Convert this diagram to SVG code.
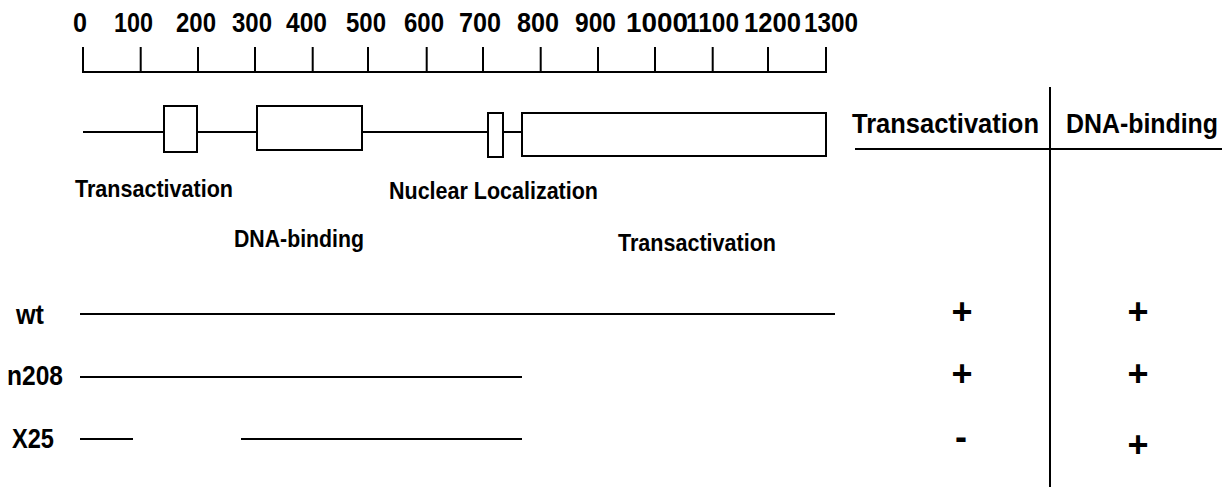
<svg xmlns="http://www.w3.org/2000/svg" width="1231" height="487" viewBox="0 0 1231 487">
<style>
text{font-family:"Liberation Sans",Arial,Helvetica,sans-serif;font-weight:bold;fill:#000}
.num{font-size:28px}
.lbl{font-size:24px}
.hdr{font-size:27px}
.row{font-size:27px}
.sym{font-size:36px;text-anchor:middle}
.ln{stroke:#000;stroke-width:2;fill:none}
.box{stroke:#000;stroke-width:2;fill:#fff}
</style>
<rect width="1231" height="487" fill="#fff"/>
<g id="ruler">
<path class="ln" d="M83,47V72H826V47M140.7,47V72M198,47V72M255,47V72M312.7,47V72M368,47V72M426.7,47V72M483,47V72M540.7,47V72M598,47V72M655,47V72M712.7,47V72M768,47V72"/>
<text class="num" x="73" y="32" textLength="14" lengthAdjust="spacingAndGlyphs">0</text>
<text class="num" x="114" y="32" textLength="39" lengthAdjust="spacingAndGlyphs">100</text>
<text class="num" x="176" y="32" textLength="40" lengthAdjust="spacingAndGlyphs">200</text>
<text class="num" x="232" y="32" textLength="40" lengthAdjust="spacingAndGlyphs">300</text>
<text class="num" x="286" y="32" textLength="41" lengthAdjust="spacingAndGlyphs">400</text>
<text class="num" x="346" y="32" textLength="40" lengthAdjust="spacingAndGlyphs">500</text>
<text class="num" x="404" y="32" textLength="40" lengthAdjust="spacingAndGlyphs">600</text>
<text class="num" x="459" y="32" textLength="42" lengthAdjust="spacingAndGlyphs">700</text>
<text class="num" x="517" y="32" textLength="42" lengthAdjust="spacingAndGlyphs">800</text>
<text class="num" x="575" y="32" textLength="41" lengthAdjust="spacingAndGlyphs">900</text>
<text class="num" x="626" y="32" textLength="62" lengthAdjust="spacingAndGlyphs">1000</text>
<text class="num" x="686" y="32" textLength="53" lengthAdjust="spacingAndGlyphs">1100</text>
<text class="num" x="744" y="32" textLength="57" lengthAdjust="spacingAndGlyphs">1200</text>
<text class="num" x="804" y="32" textLength="54" lengthAdjust="spacingAndGlyphs">1300</text>
</g>
<g id="protein">
<line class="ln" x1="83" y1="132" x2="522" y2="132"/>
<rect class="box" x="164" y="106" width="33" height="46"/>
<rect class="box" x="257" y="106" width="105" height="44"/>
<rect class="box" x="488" y="113" width="15" height="44"/>
<rect class="box" x="522" y="113" width="304" height="43"/>
</g>
<g id="domain-labels">
<text class="lbl" x="75" y="197" textLength="158" lengthAdjust="spacingAndGlyphs">Transactivation</text>
<text class="lbl" x="234" y="247" textLength="130" lengthAdjust="spacingAndGlyphs">DNA-binding</text>
<text class="lbl" x="389" y="199" textLength="209" lengthAdjust="spacingAndGlyphs">Nuclear Localization</text>
<text class="lbl" x="618" y="251" textLength="158" lengthAdjust="spacingAndGlyphs">Transactivation</text>
</g>
<g id="table">
<line class="ln" x1="855" y1="149" x2="1222" y2="149"/>
<line class="ln" x1="1050" y1="87" x2="1050" y2="487"/>
<text class="hdr" x="852" y="133" textLength="187" lengthAdjust="spacingAndGlyphs">Transactivation</text>
<text class="hdr" x="1066" y="133" textLength="152" lengthAdjust="spacingAndGlyphs">DNA-binding</text>
</g>
<g id="row-wt">
<text class="row" x="16" y="324" textLength="28" lengthAdjust="spacingAndGlyphs">wt</text>
<line class="ln" x1="80" y1="314" x2="835" y2="314"/>
<text class="sym" x="962" y="323.5">+</text>
<text class="sym" x="1138" y="323.5">+</text>
</g>
<g id="row-n208">
<text class="row" x="7" y="385" textLength="56" lengthAdjust="spacingAndGlyphs">n208</text>
<line class="ln" x1="80" y1="377" x2="522" y2="377"/>
<text class="sym" x="962" y="385.5">+</text>
<text class="sym" x="1138" y="385.5">+</text>
</g>
<g id="row-X25">
<text class="row" x="12" y="448" textLength="42" lengthAdjust="spacingAndGlyphs">X25</text>
<line class="ln" x1="80" y1="439" x2="133" y2="439"/>
<line class="ln" x1="241" y1="439" x2="522" y2="439"/>
<text class="sym" x="961" y="449">-</text>
<text class="sym" x="1138" y="457">+</text>
</g>
</svg>
